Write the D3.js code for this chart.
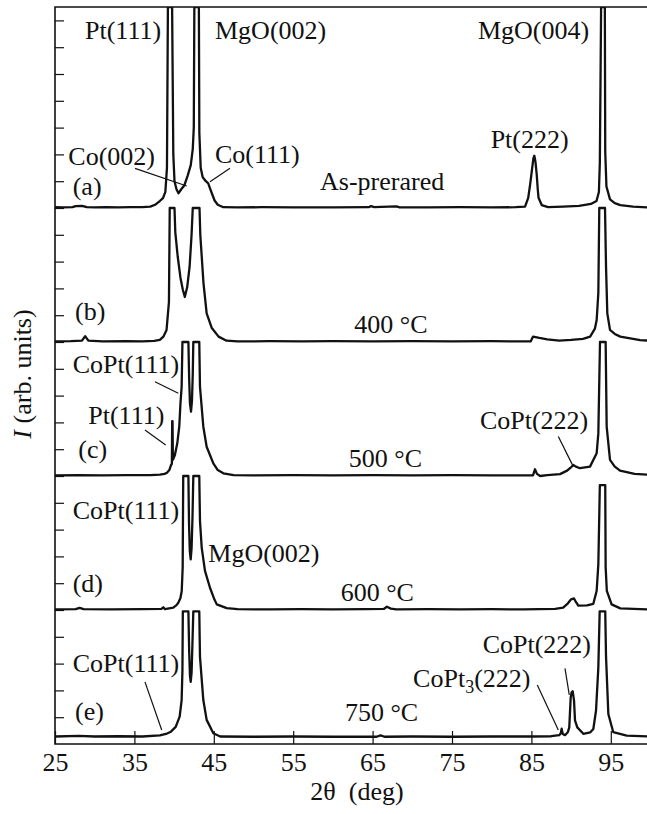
<!DOCTYPE html>
<html>
<head>
<meta charset="utf-8">
<script src="https://cdn.jsdelivr.net/npm/d3@7"></script>
<style>
body { margin: 0; background: #fff; }
svg text { font-family: "Liberation Serif", "Times New Roman", serif; font-size: 26px; fill: #111; }
</style>
</head>
<body>
<div id="chart"></div>
<script>
// x ticks (2theta, deg)
var xTicks = [25, 35, 45, 55, 65, 75, 85, 95];

// vertical offset of every scan, in tick units
var scanOffsets = [20, 15, 10, 5, 0.25];
var scanNames = ["(a)", "(b)", "(c)", "(d)", "(e)"];
var scanTemps = ["As-prerared", "400 \u00B0C", "500 \u00B0C", "600 \u00B0C", "750 \u00B0C"];

// [2theta, intensity] (peaks flattened where cut)
var scanA = [[25,0.03],[26,0.02],[27.2,0.03],[27.6,0.07],[28.4,0.08],[29.0,0.03],[30,0.02],[31.5,0.03],[33,0.02],[34.5,0.03],[36,0.03],[37.0,0.05],[37.6,0.12],[38.2,0.26],[38.6,0.37],[38.9,0.6],[39.1,1.5],[39.22,7.5],[39.75,7.5],[39.9,2.0],[40.05,1.0],[40.3,0.7],[40.55,0.55],[40.9,0.7],[41.3,0.85],[41.7,1.2],[42.1,1.6],[42.35,2.2],[42.48,3.0],[42.55,7.5],[43.12,7.5],[43.18,2.8],[43.35,1.5],[43.6,1.15],[44.0,1.0],[44.3,0.92],[44.5,0.75],[44.75,0.55],[45.1,0.28],[45.5,0.12],[46.2,0.03],[48,0.02],[51,0.03],[55,0.02],[60,0.02],[64.5,0.03],[64.8,0.07],[65.2,0.03],[68.0,0.06],[68.4,0.02],[72,0.02],[76,0.03],[80,0.02],[83,0.03],[84.2,0.05],[84.6,0.38],[84.85,0.9],[85.05,1.38],[85.25,1.85],[85.37,1.95],[85.5,1.75],[85.67,1.25],[85.8,0.7],[85.9,0.38],[86.3,0.11],[87.1,0.03],[89,0.05],[91,0.08],[92.5,0.15],[93.2,0.26],[93.5,0.6],[93.62,1.7],[93.78,7.5],[94.25,7.5],[94.3,2.1],[94.45,0.8],[94.9,0.32],[95.5,0.18],[96.2,0.11],[97.8,0.05],[100,0.02]];

var scanB = [[25,0.02],[27,0.03],[28.4,0.05],[28.8,0.22],[29.2,0.05],[31,0.02],[34,0.03],[36,0.02],[37.5,0.04],[38.2,0.08],[38.65,0.2],[39.05,0.45],[39.35,1.5],[39.45,5],[40.05,5],[40.15,4.1],[40.45,3.2],[40.8,2.4],[41.1,1.95],[41.35,1.68],[41.65,2.05],[41.95,2.8],[42.2,4.0],[42.35,5],[43.2,5],[43.3,4.0],[43.7,2.2],[44.1,1.07],[44.75,0.52],[45.6,0.2],[46.6,0.05],[48,0.02],[52,0.03],[56,0.02],[60,0.03],[65,0.02],[70,0.03],[75,0.02],[80,0.03],[84.9,0.02],[85.2,0.2],[86,0.15],[87,0.1],[88.5,0.05],[90,0.08],[91.5,0.12],[92.4,0.2],[93.0,0.5],[93.22,0.82],[93.43,1.83],[93.55,5],[94.27,5],[94.4,2.8],[94.56,1.07],[94.9,0.45],[95.5,0.3],[96.2,0.2],[98.7,0.07],[100,0.05]];

var scanC = [[25,0.02],[28,0.03],[31,0.02],[34,0.03],[37,0.03],[38.2,0.05],[38.8,0.08],[39.1,0.12],[39.4,0.22],[39.6,0.4],[39.72,0.45],[39.76,2.05],[39.8,2.05],[39.85,0.6],[40.1,0.78],[40.4,1.22],[40.65,1.84],[40.8,2.7],[40.95,3.33],[41.05,5],[41.8,5],[41.9,3.6],[42.0,2.7],[42.13,2.4],[42.25,2.8],[42.35,3.8],[42.42,5],[43.17,5],[43.26,3.33],[43.68,1.84],[44.1,1.09],[44.94,0.47],[45.5,0.22],[46.2,0.1],[47.5,0.03],[50,0.02],[55,0.03],[60,0.02],[65,0.03],[70,0.02],[75,0.03],[80,0.02],[85.2,0.02],[85.45,0.25],[85.7,0.08],[86.1,0.0],[87,0.03],[88.6,0.07],[89.5,0.2],[89.9,0.3],[90.28,0.41],[90.6,0.35],[91.12,0.29],[92.38,0.35],[93.22,0.85],[93.43,1.59],[93.64,5],[94.35,5],[94.48,1.84],[94.9,0.6],[95.5,0.35],[96.16,0.2],[98,0.08],[100,0.04]];

var scanD = [[25,0.02],[27.6,0.03],[28.1,0.08],[28.6,0.03],[32,0.02],[36,0.03],[38.4,0.04],[38.64,0.1],[38.85,0.03],[39.9,0.09],[40.3,0.18],[40.53,0.27],[40.8,0.45],[40.96,0.71],[41.08,1.58],[41.15,5],[41.8,5],[41.88,3.2],[41.98,2.2],[42.09,1.89],[42.2,2.3],[42.32,3.5],[42.42,5],[43.17,5],[43.26,3.32],[43.48,2.32],[43.89,1.46],[44.52,0.83],[45.0,0.45],[45.37,0.21],[46.63,0.07],[48,0.03],[52,0.02],[56,0.03],[60,0.02],[64,0.03],[66.4,0.04],[66.8,0.12],[67.3,0.05],[68,0.02],[72,0.03],[76,0.02],[80,0.03],[84,0.02],[88,0.04],[89.0,0.09],[89.6,0.25],[90.0,0.4],[90.37,0.43],[90.6,0.3],[90.91,0.16],[92,0.17],[92.8,0.23],[93.22,0.72],[93.43,1.7],[93.62,4.66],[94.3,4.66],[94.35,1.6],[94.5,0.71],[95.1,0.21],[96.2,0.06],[100,0.02]];

var scanE = [[25,0.03],[28,0.05],[30,0.03],[33,0.04],[36,0.03],[38.2,0.07],[39.1,0.14],[39.6,0.21],[40.2,0.39],[40.7,0.77],[40.95,1.39],[41.05,2.5],[41.1,4.7],[41.8,4.7],[41.9,3.2],[42.0,2.3],[42.09,2.07],[42.2,2.4],[42.32,3.6],[42.42,4.7],[43.17,4.7],[43.26,3.0],[43.68,1.39],[44.1,0.65],[44.94,0.15],[45.8,0.03],[50,0.02],[55,0.03],[60,0.02],[65.5,0.02],[66.0,0.07],[66.5,0.02],[70,0.03],[75,0.02],[80,0.03],[85,0.03],[87.5,0.04],[88.5,0.08],[88.7,0.15],[88.81,0.32],[88.95,0.12],[89.23,0.08],[89.6,0.2],[89.77,0.37],[89.95,1.49],[90.07,1.68],[90.2,1.72],[90.37,1.37],[90.49,0.63],[90.78,0.37],[91.54,0.13],[92.4,0.18],[92.8,0.31],[93.14,1.0],[93.43,2.6],[93.6,4.7],[94.3,4.7],[94.4,3.0],[94.69,0.87],[95.31,0.19],[97.0,0.06],[100,0.03]];

var scans = [scanA, scanB, scanC, scanD, scanE];

// peak labels: text, 2theta, absolute y (tick units)
var peakLabels = [
  ["Pt(111)", 28.78, 26.31], ["MgO(002)", 45.15, 26.31], ["MgO(004)", 78.27, 26.31],
  ["Pt(222)", 79.87, 22.24], ["Co(002)", 26.68, 21.6], ["Co(111)", 45.15, 21.68],
  ["CoPt(111)", 27.23, 13.83], ["Pt(111)", 29.19, 11.94], ["CoPt(222)", 78.52, 11.74],
  ["CoPt(111)", 27.23, 8.38], ["MgO(002)", 44.31, 6.8],
  ["CoPt(111)", 27.23, 2.7], ["CoPt(222)", 78.86, 3.38]
];
var nameX = [27.23, 27.52, 27.93, 27.23, 27.52];
var nameY = [20.49, 15.82, 10.66, 5.68, 0.9];
var tempX = [58.38, 62.7, 62.0, 60.98, 61.52];
var tempY = [20.67, 15.35, 10.35, 5.35, 0.87];

// leader lines [x1, y1, x2, y2]
var leaders = [
  [35.08, 21.48, 41.59, 20.82], [47.04, 21.48, 44.52, 20.98],
  [37.59, 13.52, 40.53, 13.09], [36.33, 11.72, 38.94, 11.16],
  [88.39, 11.47, 90.28, 10.35], [36.33, 2.32, 38.44, 0.52],
  [89.23, 2.82, 89.77, 1.83], [85.74, 2.2, 88.39, 0.52]
];

var svgWidth = 647, svgHeight = 814;
var plotLeft = 55, plotTop = 7, plotBottom = 744, plotRight = 650.5;

var svg = d3.select("#chart").append("svg")
  .attr("width", svgWidth)
  .attr("height", svgHeight);

var x = d3.scaleLinear().domain([25, 100]).range([plotLeft, plotRight]);
var y = d3.scaleLinear().domain([0, 27.5]).range([plotBottom, plotTop]);

svg.append("clipPath").attr("id", "plotClip")
  .append("rect").attr("x", plotLeft).attr("y", plotTop)
  .attr("width", plotRight - plotLeft).attr("height", plotBottom - plotTop);

// axes
var xAxis = d3.axisBottom(x).tickValues(xTicks).tickSizeInner(-13).tickSizeOuter(0).tickPadding(9);
var gx = svg.append("g").attr("transform", `translate(0,${plotBottom})`).call(xAxis);
gx.select(".domain").remove();
gx.selectAll("line").attr("stroke", "#111").attr("stroke-width", 1.2);
gx.attr("font-size", null).attr("font-family", null);

var yAxis = d3.axisLeft(y).tickValues(d3.range(1, 28)).tickSizeInner(-9).tickSizeOuter(0).tickFormat("");
var gy = svg.append("g").attr("transform", `translate(${plotLeft},0)`).call(yAxis);
gy.select(".domain").remove();
gy.selectAll("line").attr("stroke", "#111").attr("stroke-width", 1.2);

// frame (left, top, bottom)
svg.append("path")
  .attr("d", `M${plotRight},${plotTop}H${plotLeft}V${plotBottom}H${plotRight}`)
  .attr("fill", "none").attr("stroke", "#111").attr("stroke-width", 1.6);

// scans
var line = d3.line().x(d => x(d[0])).y(d => y(d[1]));
var plot = svg.append("g").attr("clip-path", "url(#plotClip)");
scans.forEach(function(scan, i) {
  plot.append("path")
    .datum(scan.map(p => [p[0], p[1] + scanOffsets[i]]))
    .attr("d", line)
    .attr("fill", "none")
    .attr("stroke", "#111")
    .attr("stroke-width", 2.3)
    .attr("stroke-linejoin", "round");
});

// leaders
svg.selectAll(".leader").data(leaders).enter().append("line")
  .attr("class", "leader")
  .attr("x1", d => x(d[0])).attr("y1", d => y(d[1]))
  .attr("x2", d => x(d[2])).attr("y2", d => y(d[3]))
  .attr("stroke", "#111").attr("stroke-width", 1.2);

// labels
svg.selectAll(".peak").data(peakLabels).enter().append("text")
  .attr("class", "peak")
  .attr("x", d => x(d[1])).attr("y", d => y(d[2]))
  .text(d => d[0]);

var sub = svg.append("text").attr("x", x(70.1)).attr("y", y(2.14));
sub.append("tspan").text("CoPt");
sub.append("tspan").attr("dy", 6).style("font-size", "18px").text("3");
sub.append("tspan").attr("dy", -6).text("(222)");

scanNames.forEach(function(n, i) {
  svg.append("text").attr("x", x(nameX[i])).attr("y", y(nameY[i])).text(n);
  svg.append("text").attr("x", x(tempX[i])).attr("y", y(tempY[i])).text(scanTemps[i]);
});

// axis titles
svg.append("text")
  .attr("text-anchor", "middle")
  .attr("x", 357).attr("y", 800)
  .text("2\u03B8\u00A0 (deg)");

var yt = svg.append("text")
  .attr("text-anchor", "middle")
  .attr("transform", "translate(31,374) rotate(-90)");
yt.append("tspan").style("font-style", "italic").text("I");
yt.append("tspan").text(" (arb. units)");
</script>
</body>
</html>
